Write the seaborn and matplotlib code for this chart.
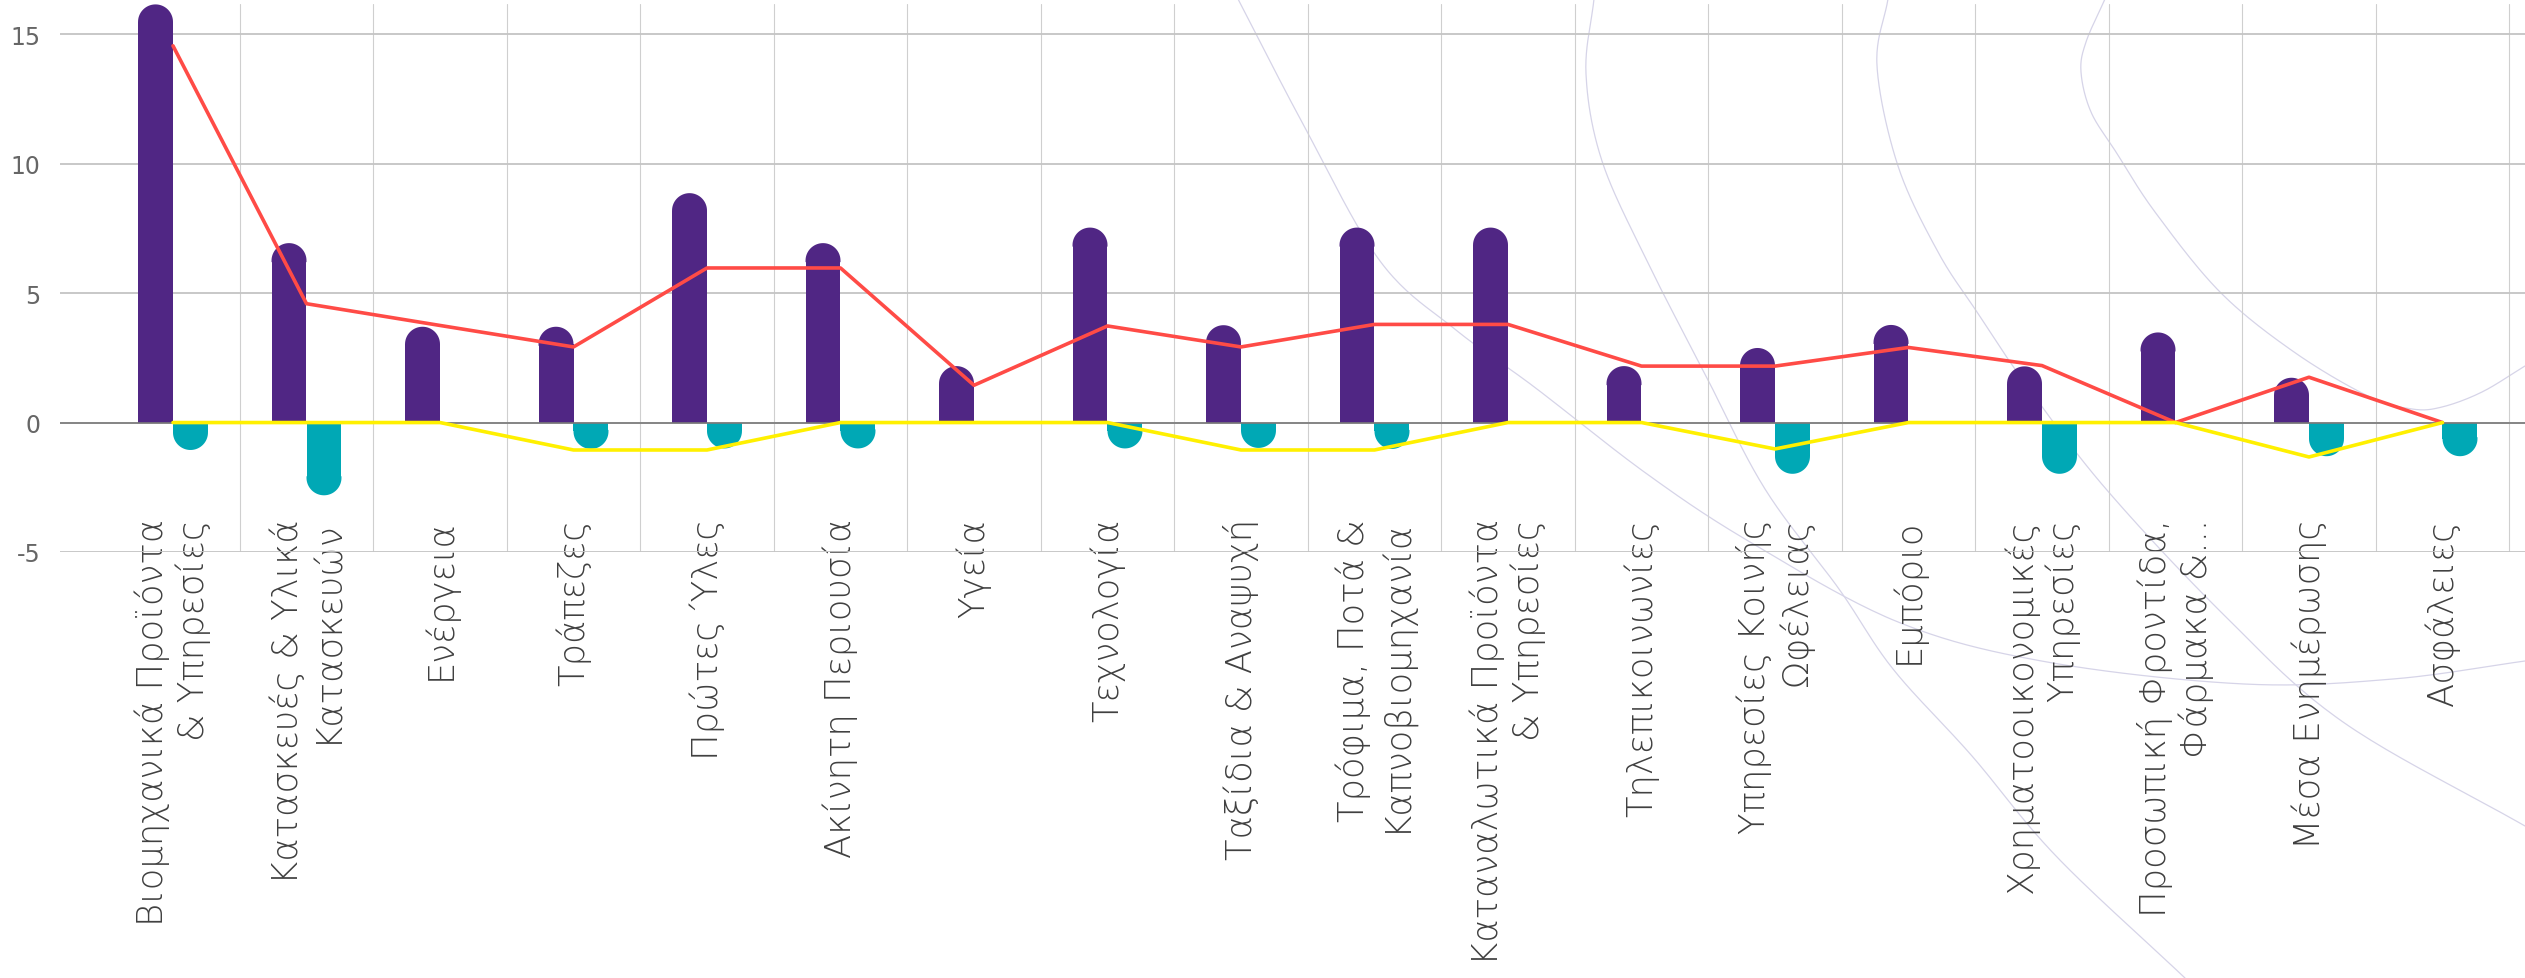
import numpy as np
import pandas as pd
import matplotlib
matplotlib.use("Agg")
import matplotlib.pyplot as plt
import seaborn as sns
from matplotlib.patches import Polygon

# sector names (x axis)
categories = [
    "Βιομηχανικά Προϊόντα\n& Υπηρεσίες",
    "Κατασκευές & Υλικά\nΚατασκευών",
    "Ενέργεια",
    "Τράπεζες",
    "Πρώτες Ύλες",
    "Ακίνητη Περιουσία",
    "Υγεία",
    "Τεχνολογία",
    "Ταξίδια & Αναψυχή",
    "Τρόφιμα, Ποτά &\nΚαπνοβιομηχανία",
    "Καταναλωτικά Προϊόντα\n& Υπηρεσίες",
    "Τηλεπικοινωνίες",
    "Υπηρεσίες Κοινής\nΩφέλειας",
    "Εμπόριο",
    "Χρηματοοικονομικές\nΥπηρεσίες",
    "Προσωπική Φροντίδα,\nΦάρμακα &...",
    "Μέσα Ενημέρωσης",
    "Ασφάλειες",
]

# bar series
positive = [16.15, 6.93, 3.70, 3.70, 8.86, 6.93, 2.18, 7.53, 3.76, 7.53,
            7.53, 2.18, 2.88, 3.77, 2.17, 3.48, 1.73, 0.0]
negative = [-1.06, -2.81, 0.0, -1.02, -1.0, -1.0, 0.0, -1.0, -0.98, -1.02,
            0.0, 0.0, -1.98, 0.0, -1.98, 0.0, -1.3, -1.3]

# line series
red_line = [14.55, 4.59, 3.75, 2.92, 5.97, 5.97, 1.44, 3.73, 2.92, 3.79,
            3.79, 2.18, 2.18, 2.90, 2.20, 0.0, 1.75, 0.0]
yellow_line = [0.0, 0.0, 0.0, -1.06, -1.06, 0.0, 0.0, 0.0, -1.06, -1.06,
               0.0, 0.0, -1.02, 0.0, 0.0, 0.0, -1.33, 0.0]

y_ticks = [-5, 0, 5, 10, 15]

PURPLE = "#502684"
TEAL = "#00A8B5"
RED = "#FF4B46"
YELLOW = "#FFF000"

# figure geometry (pixels)
W, H = 2525, 979
AX_LEFT, AX_TOP, AX_BOTTOM = 60, 5.4, 553
FIRST_CENTER, STEP = 173, 133.5
Y_MAX = 16.15

sns.set_style("white")
plt.rcParams["font.family"] = ["DejaVu Sans"]
plt.rcParams["axes.unicode_minus"] = False

fig = plt.figure(figsize=(W / 100, H / 100), dpi=100)

# faint decorative background curves
bg = fig.add_axes([0, 0, 1, 1], zorder=0)
bg.set_xlim(0, W)
bg.set_ylim(H, 0)
bg.axis("off")


def smooth(points, n=24):
    pts = np.asarray(points, float)
    ext = np.vstack([2 * pts[0] - pts[1], pts, 2 * pts[-1] - pts[-2]])
    t = np.linspace(0, 1, n)[:, None]
    out = []
    for i in range(1, len(ext) - 2):
        p0, p1, p2, p3 = ext[i - 1:i + 3]
        out.append(0.5 * (2 * p1 + (-p0 + p2) * t
                          + (2 * p0 - 5 * p1 + 4 * p2 - p3) * t ** 2
                          + (-p0 + 3 * p1 - 3 * p2 + p3) * t ** 3))
    return np.vstack(out)


curves = [
    [(1238, 0), (1303, 125), (1380, 262), (1456, 331), (1533, 387), (1647, 475),
     (1750, 543), (1898, 623), (2047, 663), (2244, 685), (2393, 680), (2525, 662)],
    [(1594, 0), (1586, 75), (1602, 162), (1647, 262), (1705, 375), (1765, 490),
     (1839, 590), (1893, 670), (1972, 757), (2056, 857), (2185, 979)],
    [(1888, 0), (1877, 67), (1898, 167), (1938, 253), (1977, 313), (2027, 387),
     (2106, 490), (2225, 617), (2343, 723), (2525, 827)],
    [(2105, 0), (2086, 43), (2081, 73), (2091, 113), (2116, 153), (2155, 213),
     (2220, 293), (2294, 353), (2368, 397), (2412, 410), (2442, 408),
     (2482, 393), (2525, 367)],
]
for c in curves:
    xy = smooth(c)
    bg.plot(xy[:, 0], xy[:, 1], color="#D6D4E8", lw=0.9)

ax = fig.add_axes([AX_LEFT / W, 1 - AX_BOTTOM / H,
                   (W - AX_LEFT) / W, (AX_BOTTOM - AX_TOP) / H], zorder=1)
ax.set_facecolor("none")

df = pd.DataFrame({
    "sector": categories * 2,
    "series": ["pos"] * len(categories) + ["neg"] * len(categories),
    "value": positive + negative,
})
sns.barplot(data=df, x="sector", y="value", hue="series", order=categories,
            hue_order=["pos", "neg"], palette=[PURPLE, TEAL], width=0.524,
            saturation=1, legend=False, errorbar=None, linewidth=0, ax=ax)

x0 = (AX_LEFT - FIRST_CENTER) / STEP
x1 = (W - FIRST_CENTER) / STEP
ax.set_xlim(x0, x1)
ax.set_ylim(-5, Y_MAX)

# round the free end of every bar with a half-ellipse (circular on screen)
px_x = (W - AX_LEFT) / (x1 - x0)
px_y = (AX_BOTTOM - AX_TOP) / (Y_MAX + 5)
theta = np.linspace(0, np.pi, 40)
for bar in list(ax.patches):
    h = bar.get_height()
    if h == 0:
        continue
    w = bar.get_width()
    r = (w * px_x / 2) / px_y
    s = np.sign(h)
    base = h - s * r
    bar.set_height(base)
    cx = bar.get_x() + w / 2
    overlap = 0.06
    cap = np.column_stack([cx + (w / 2) * np.cos(theta),
                           base + s * r * np.sin(theta)])
    cap = np.vstack([[cx + w / 2, base - s * overlap], cap,
                     [cx - w / 2, base - s * overlap]])
    ax.add_patch(Polygon(cap, closed=True, facecolor=bar.get_facecolor(),
                         lw=0, zorder=bar.get_zorder()))

pos = np.arange(len(categories))
sns.lineplot(x=pos, y=red_line, color=RED, lw=2.6, sort=False, estimator=None,
             ax=ax, zorder=4)
sns.lineplot(x=pos, y=yellow_line, color=YELLOW, lw=2.6, sort=False,
             estimator=None, ax=ax, zorder=4)

# grid
ax.set_yticks(y_ticks)
ax.yaxis.grid(True, color="#C4C4C4", lw=1.3)
ax.set_xticks(pos)
ax.set_xticks(np.arange(0.5, len(categories), 1), minor=True)
ax.xaxis.grid(True, which="minor", color="#CFCFCF", lw=0.8)
ax.xaxis.grid(False, which="major")
ax.axhline(0, color="#7A7A7A", lw=1.2, zorder=1.5)
ax.set_axisbelow(True)
for sp in ax.spines.values():
    sp.set_visible(False)

ax.set_xlabel("")
ax.set_ylabel("")
ax.set_xticklabels(categories, rotation=90, fontsize=25.5, color="#404040",
                   fontweight=200)
for lab in ax.get_xticklabels():
    lab.set_multialignment("right")
ax.tick_params(axis="x", which="both", length=0, pad=-24.5)
ax.tick_params(axis="y", length=0, pad=14, labelsize=17, labelcolor="#666666")

fig.savefig("out.png", dpi=100)
